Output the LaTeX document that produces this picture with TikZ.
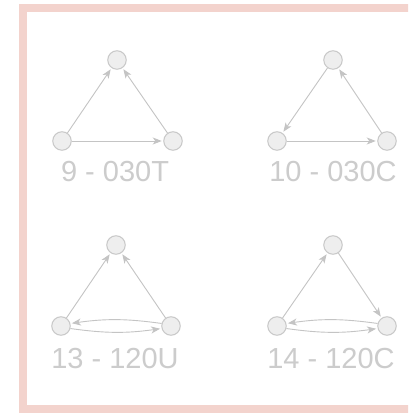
\documentclass[tikz,border=0pt]{standalone}
\usepackage{fontspec}
\setmainfont{Liberation Sans}
\usetikzlibrary{arrows.meta}
\definecolor{framepink}{HTML}{F3D3CD}
\definecolor{nodefill}{HTML}{EEEEEE}
\definecolor{nodeline}{HTML}{C8C8C8}
\definecolor{edgecol}{HTML}{C4C4C4}
\definecolor{labcol}{HTML}{CCCCCC}
\tikzset{
  vert/.style={circle, minimum size=18.5pt, inner sep=0pt, fill=nodefill, draw=nodeline, line width=1pt},
  arc/.style={draw=edgecol, line width=0.9pt, -{Stealth[length=9pt,width=7pt,inset=2.5pt]}, shorten >=1.5pt},
  lab/.style={anchor=base, text=labcol, font=\fontsize{29}{33}\selectfont, inner sep=0pt}
}
\begin{document}
\begin{tikzpicture}[x=1pt,y=1pt]
\useasboundingbox (0,0) rectangle (408,414);
\fill[white] (0,0) rectangle (408,414);
\begin{scope}
\clip (0,0) rectangle (408,414);
\draw[framepink, line width=8pt] (23,5) rectangle (440,406);
\end{scope}
% panel 1
\node[vert] (a1) at (117,354) {};
\node[vert] (b1) at (62,273) {};
\node[vert] (c1) at (173,273) {};
\draw[arc] (b1) -- (a1);
\draw[arc] (c1) -- (a1);
\draw[arc] (b1) -- (c1);
\node[lab] (l1) at (115,232) {9 - 030T};
% panel 2
\node[vert] (a2) at (333,354) {};
\node[vert] (b2) at (277,273) {};
\node[vert] (c2) at (387,273) {};
\draw[arc] (a2) -- (b2);
\draw[arc] (b2) -- (c2);
\draw[arc] (c2) -- (a2);
\node[lab] (l2) at (333,232) {10 - 030C};
% panel 3
\node[vert] (a3) at (116,169) {};
\node[vert] (b3) at (61,88) {};
\node[vert] (c3) at (171,88) {};
\draw[arc] (b3) -- (a3);
\draw[arc] (c3) -- (a3);
\draw[arc] (c3.165) to[bend right=8] (b3.15);
\draw[arc] (b3.-15) to[bend right=8] (c3.195);
\node[lab] (l3) at (115,45) {13 - 120U};
% panel 4
\node[vert] (a4) at (333,169) {};
\node[vert] (b4) at (277,88) {};
\node[vert] (c4) at (387,88) {};
\draw[arc] (b4) -- (a4);
\draw[arc] (a4) -- (c4);
\draw[arc] (c4.165) to[bend right=8] (b4.15);
\draw[arc] (b4.-15) to[bend right=8] (c4.195);
\node[lab] (l4) at (331,45) {14 - 120C};
\end{tikzpicture}
\end{document}
